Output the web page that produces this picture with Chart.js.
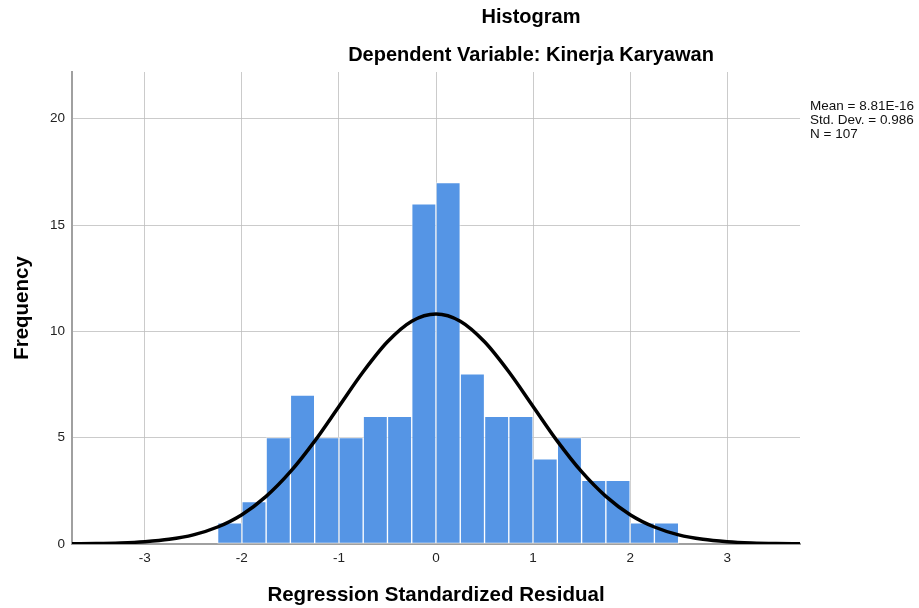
<!DOCTYPE html>
<html>
<head>
<meta charset="utf-8">
<script src="https://cdn.jsdelivr.net/npm/chart.js@4"></script>
<style>
  html, body { margin: 0; padding: 0; background: #fff; }
  #wrap { width: 919px; height: 608px; }
</style>
</head>
<body>
<div id="wrap"><canvas id="myChart" width="919" height="608"></canvas></div>
<script>
// histogram bins (width 0.25), centres and counts
const binCenters = [-2.125, -1.875, -1.625, -1.375, -1.125, -0.875, -0.625, -0.375, -0.125,
    0.125, 0.375, 0.625, 0.875, 1.125, 1.375, 1.625, 1.875, 2.125, 2.375];
const frequencies = [1, 2, 5, 7, 5, 5, 6, 6, 16, 17, 8, 6, 6, 4, 5, 3, 3, 1, 1];

// normal curve
const curveX = [-3.75, -3.5, -3.25, -3, -2.75, -2.5, -2.25, -2, -1.75, -1.5, -1.25, -1, -0.75, -0.5, -0.25,
    0, 0.25, 0.5, 0.75, 1, 1.25, 1.5, 1.75, 2, 2.25, 2.5, 2.75, 3, 3.25, 3.5, 3.75];
const curveY = [0.01, 0.02, 0.05, 0.11, 0.22, 0.43, 0.8, 1.38, 2.24, 3.4, 4.84, 6.47, 8.1, 9.51, 10.48,
    10.82, 10.48, 9.51, 8.1, 6.47, 4.84, 3.4, 2.24, 1.38, 0.8, 0.43, 0.22, 0.11, 0.05, 0.02, 0.01];

const statLines = ['Mean = 8.81E-16', 'Std. Dev. = 0.986', 'N = 107'];
const titleLines = ['Histogram', 'Dependent Variable: Kinerja Karyawan'];

const FONT = '"Liberation Sans", Arial, sans-serif';

const headerText = {
    id: 'headerText',
    afterDraw(chart) {
        const ctx = chart.ctx;
        ctx.save();
        ctx.fillStyle = '#000';
        ctx.textAlign = 'center';
        ctx.textBaseline = 'middle';
        ctx.font = 'bold 20px ' + FONT;
        ctx.fillText(titleLines[0], 531, 17);
        ctx.fillText(titleLines[1], 531, 55);

        ctx.textAlign = 'left';
        ctx.font = '13.5px ' + FONT;
        ctx.fillStyle = '#111';
        statLines.forEach((t, i) => {
            ctx.fillText(t, 810, 106.5 + i * 14);
        });
        ctx.restore();
    }
};

new Chart(document.getElementById('myChart'), {
    data: {
        datasets: [
            {
                type: 'line',
                data: curveX.map((x, i) => ({x: x, y: curveY[i]})),
                borderColor: '#000',
                borderWidth: 3.5,
                pointRadius: 0,
                fill: false,
                cubicInterpolationMode: 'monotone',
                order: 0
            },
            {
                type: 'bar',
                data: binCenters.map((x, i) => ({x: x, y: frequencies[i]})),
                backgroundColor: '#5595e5',
                borderColor: 'rgba(255,255,255,0.55)',
                borderWidth: 1,
                borderSkipped: false,
                barPercentage: 1,
                categoryPercentage: 1,
                order: 1
            }
        ]
    },
    options: {
        responsive: false,
        animation: false,
        layout: {
            padding: {top: 72, right: 119, left: 0, bottom: 0}
        },
        plugins: {
            legend: {display: false},
            tooltip: {enabled: false}
        },
        scales: {
            x: {
                type: 'linear',
                min: -3.75,
                max: 3.75,
                offset: false,
                z: 1,
                afterFit: (s) => { s.height = 64; },
                grid: {color: 'rgba(190,190,190,0.8)', lineWidth: 1, drawTicks: false, offset: false},
                border: {color: '#a0a0a0', width: 2},
                ticks: {
                    stepSize: 1,
                    includeBounds: false,
                    padding: 6,
                    color: '#222',
                    font: {family: FONT, size: 13.5}
                },
                title: {
                    display: true,
                    text: 'Regression Standardized Residual',
                    color: '#000',
                    font: {family: FONT, size: 20.5, weight: 'bold'},
                    padding: {top: 0, bottom: 0}
                }
            },
            y: {
                min: 0,
                max: 22.2,
                z: 1,
                afterFit: (s) => { s.width = 72; },
                grid: {color: 'rgba(190,190,190,0.8)', lineWidth: 1, drawTicks: false},
                border: {color: '#a0a0a0', width: 2},
                ticks: {
                    stepSize: 5,
                    includeBounds: false,
                    padding: 7,
                    color: '#222',
                    font: {family: FONT, size: 13.5}
                },
                title: {
                    display: true,
                    text: 'Frequency',
                    color: '#000',
                    font: {family: FONT, size: 20.5, weight: 'bold'},
                    padding: {top: 10, bottom: 0}
                }
            }
        }
    },
    plugins: [headerText]
});
</script>
</body>
</html>
